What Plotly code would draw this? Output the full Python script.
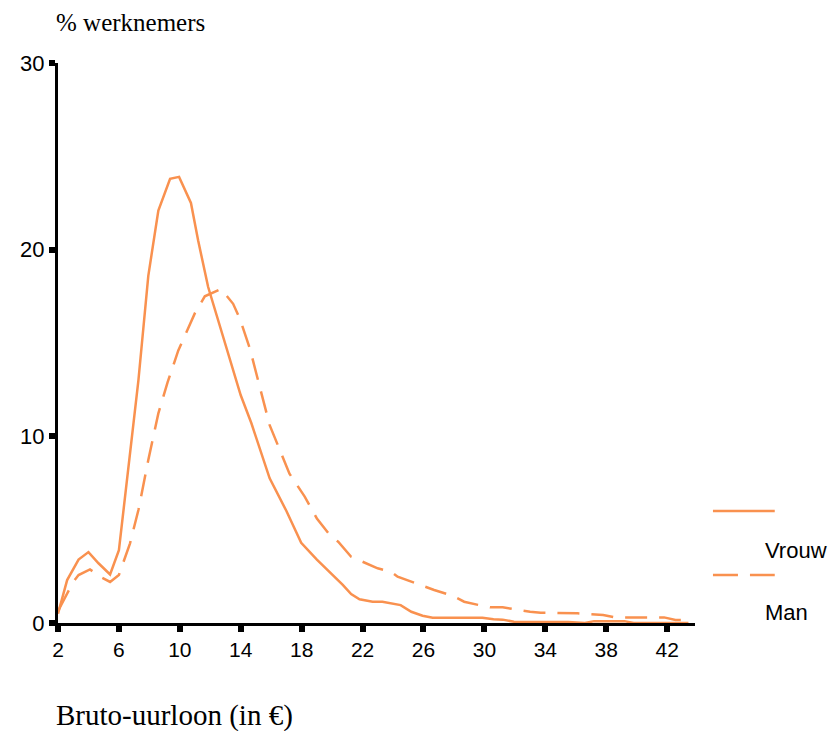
import plotly.graph_objects as go

# Vrouw (solid)
vrouw_x = [2.0, 2.6, 3.35, 4.0, 4.66, 5.42, 6.0, 7.28, 7.93, 8.59, 9.36, 9.95, 10.73, 11.2, 11.86,
           12.6, 13.28, 14.0, 14.7, 15.9, 17.0, 17.97, 19.0, 19.94, 20.7, 21.25, 21.8, 22.66, 23.3,
           24.5, 25.2, 25.94, 26.6, 29.87, 30.6, 31.2, 31.94, 35.5, 36.6, 37.2, 39.2, 39.8, 43.4]
vrouw_y = [0.5, 2.3, 3.4, 3.8, 3.2, 2.6, 3.9, 13.0, 18.6, 22.1, 23.8, 23.9, 22.5, 20.5, 18.0,
           16.0, 14.1, 12.2, 10.7, 7.75, 6.0, 4.3, 3.4, 2.66, 2.04, 1.55, 1.27, 1.14, 1.14,
           0.96, 0.6, 0.39, 0.28, 0.28, 0.2, 0.18, 0.07, 0.05, 0.0, 0.1, 0.1, 0.0, 0.0]

# Man (dashed)
man_x = [2.04, 2.6, 3.0, 3.35, 4.1, 4.88, 5.42, 6.0, 6.73, 7.28, 7.93, 8.59, 9.2, 9.9, 10.99,
         11.64, 12.7, 13.5, 13.94, 14.6, 15.25, 15.9, 17.2, 18.2, 19.0, 19.94, 20.4, 21.25, 22.99,
         23.87, 24.3, 25.2, 26.7, 27.9, 28.67, 29.65, 30.4, 31.2, 33.0, 33.7, 36.1, 37.8, 38.6,
         41.8, 42.55, 43.4]
man_y = [0.7, 1.6, 2.2, 2.57, 2.87, 2.43, 2.2, 2.57, 4.27, 6.05, 8.73, 11.23, 12.9, 14.6, 16.6,
         17.5, 17.9, 17.1, 16.3, 14.7, 12.6, 10.6, 8.0, 6.77, 5.6, 4.62, 4.35, 3.55, 2.93,
         2.75, 2.48, 2.21, 1.77, 1.46, 1.14, 0.96, 0.84, 0.84, 0.6, 0.55, 0.52, 0.43, 0.3,
         0.3, 0.16, 0.16]

x_ticks = [2, 6, 10, 14, 18, 22, 26, 30, 34, 38, 42]
y_ticks = [0, 10, 20, 30]

ORANGE = "#F9914F"
SANS = "Liberation Sans, Arial"
SERIF = "Liberation Serif, Times New Roman"

fig = go.Figure()
fig.add_trace(go.Scatter(x=vrouw_x, y=vrouw_y, mode="lines", name="Vrouw",
                         line=dict(color=ORANGE, width=2.5), showlegend=False))
fig.add_trace(go.Scatter(x=man_x, y=man_y, mode="lines", name="Man",
                         line=dict(color=ORANGE, width=2.5, dash="22px,12px"), showlegend=False))

fig.update_layout(
    width=832, height=723,
    margin=dict(l=48, r=145, t=55, b=108),
    paper_bgcolor="white", plot_bgcolor="white",
    font=dict(family=SANS, size=20, color="black"),
    xaxis=dict(range=[2, 43.83], tickvals=x_ticks, ticktext=[str(v) for v in x_ticks],
               showgrid=False, zeroline=False, showline=True, linecolor="black", linewidth=3,
               ticks="outside", ticklen=6, tickwidth=6, tickcolor="black",
               tickfont=dict(family=SANS, size=21, color="black")),
    yaxis=dict(range=[0, 30], tickvals=y_ticks, ticktext=[str(v) for v in y_ticks],
               showgrid=False, zeroline=False, showline=True, linecolor="black", linewidth=3,
               ticks="outside", ticklen=6, tickwidth=6, tickcolor="black",
               tickfont=dict(family=SANS, size=22, color="black")),
    annotations=[
        dict(text="% werknemers", xref="paper", yref="paper", x=0.0, y=1.0, yshift=41, xshift=-4,
             xanchor="left", yanchor="middle", showarrow=False,
             font=dict(family=SERIF, size=25, color="black")),
        dict(text="Bruto-uurloon (in €)", xref="paper", yref="paper", x=0.0, y=0, yshift=-92, xshift=-4,
             xanchor="left", yanchor="middle", showarrow=False,
             font=dict(family=SERIF, size=29, color="black")),
        dict(text="Vrouw", xref="paper", yref="paper", x=1.0, xshift=68, y=0.1286,
             xanchor="left", yanchor="middle", showarrow=False,
             font=dict(family=SANS, size=22, color="black")),
        dict(text="Man", xref="paper", yref="paper", x=1.0, xshift=68, y=0.0196,
             xanchor="left", yanchor="middle", showarrow=False,
             font=dict(family=SANS, size=22, color="black")),
    ],
    shapes=[
        dict(type="line", xref="paper", yref="paper", x0=1.0282, x1=1.1252, y0=0.2, y1=0.2,
             line=dict(color=ORANGE, width=2.5)),
        dict(type="line", xref="paper", yref="paper", x0=1.0282, x1=1.1252, y0=0.0857, y1=0.0857,
             line=dict(color=ORANGE, width=2.5, dash="25px,12px")),
    ],
)

fig.write_html("out.html")
